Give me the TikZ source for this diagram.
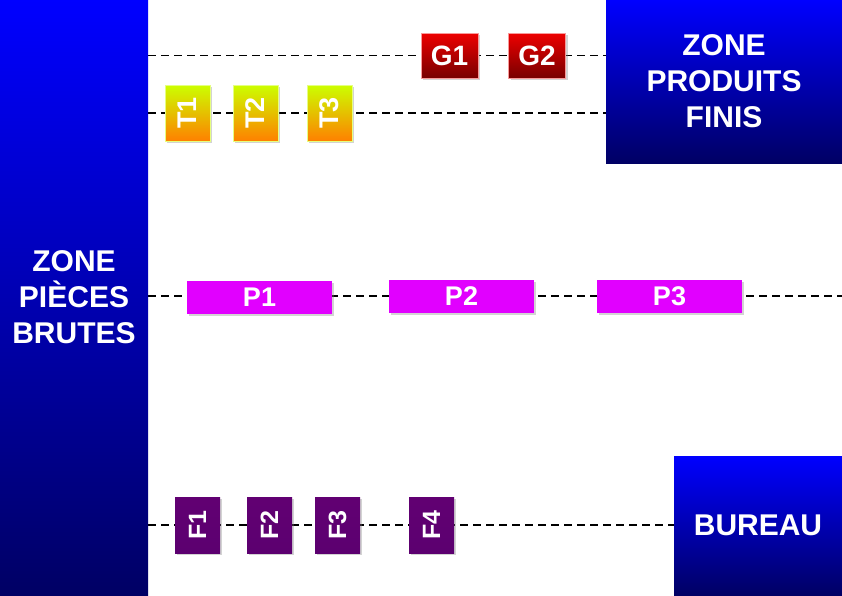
\documentclass[tikz,border=0pt]{standalone}
\usepackage{fontspec}
\setmainfont{Liberation Sans}
\usetikzlibrary{positioning, shadows, backgrounds}
\usepackage{xcolor}
\definecolor{zntop}{HTML}{0000FF}
\definecolor{znbot}{HTML}{000064}
\definecolor{grtop}{HTML}{EE0000}
\definecolor{grbot}{HTML}{780000}
\definecolor{trtop}{HTML}{CCFF00}
\definecolor{trbot}{HTML}{FF8000}
\definecolor{prmag}{HTML}{E100FF}
\definecolor{fipur}{HTML}{5C0070}
\tikzset{
  zonebox/.style={top color=zntop, bottom color=znbot, inner sep=0pt, align=center,
    text=white, font=\fontsize{30}{36}\selectfont\bfseries},
  smallbox/.style={inner sep=0pt, text=white, drop shadow={shadow xshift=2pt, shadow yshift=-2pt, opacity=0.35}},
  gbox/.style={smallbox, top color=grtop, bottom color=grbot, draw=grtop!40, line width=0.6pt,
    minimum width=57pt, minimum height=45pt, font=\fontsize{28}{28}\selectfont\bfseries},
  tbox/.style={smallbox, top color=trtop, bottom color=trbot, draw=trtop!50, line width=0.6pt,
    minimum width=45pt, minimum height=56pt, font=\fontsize{27}{27}\selectfont\bfseries},
  pbox/.style={smallbox, fill=prmag, minimum width=145pt, minimum height=33pt,
    font=\fontsize{27}{27}\selectfont\bfseries},
  fbox/.style={smallbox, top color=fipur!85!violet, bottom color=fipur, minimum width=45pt,
    minimum height=56pt, font=\fontsize{25}{25}\selectfont\bfseries},
  lane/.style={dash pattern=on 8pt off 5pt, line width=1.5pt, black}
}

\begin{document}
\begin{tikzpicture}[x=1pt, y=-1pt]
    \useasboundingbox (0,0) rectangle (842,595);
    \coordinate (rim) at (842,0);

    \node[zonebox, minimum width=148pt, minimum height=595pt] (brutes) at (74,297.5) {ZONE\\PIÈCES\\BRUTES};
    \node[zonebox, minimum width=236pt, minimum height=163pt] (finis) at (724,81.5) {ZONE\\PRODUITS\\FINIS};
    \node[zonebox, minimum width=168pt, minimum height=139pt] (bureau) at (758,525.5) {BUREAU};

    \node[gbox] (G1) at (449.5,55.5) {G1};
    \node[gbox] (G2) at (537,55.5) {G2};

    \node[tbox] (T1) at (187.5,113) {\rotatebox{90}{T1}};
    \node[tbox] (T2) at (255.5,113) {\rotatebox{90}{T2}};
    \node[tbox] (T3) at (329.5,113) {\rotatebox{90}{T3}};

    \node[pbox] (P1) at (259.5,297) {P1};
    \node[pbox] (P2) at (461.5,296) {P2};
    \node[pbox] (P3) at (669.5,296) {P3};

    \node[fbox] (F1) at (197.5,525) {\rotatebox{90}{F1}};
    \node[fbox] (F2) at (269.5,525) {\rotatebox{90}{F2}};
    \node[fbox] (F3) at (337.5,525) {\rotatebox{90}{F3}};
    \node[fbox] (F4) at (431.5,525) {\rotatebox{90}{F4}};

    \begin{scope}[on background layer]
      \draw[lane] (brutes.east |- G1.center) -- (finis.west |- G1.center);
      \draw[lane] (brutes.east |- T1.center) -- (finis.west |- T1.center);
      \draw[lane] (brutes.east |- P2.center) -- (rim |- P2.center);
      \draw[lane] (brutes.east |- F1.center) -- (bureau.west |- F1.center);
    \end{scope}
  \end{tikzpicture}
\end{document}
